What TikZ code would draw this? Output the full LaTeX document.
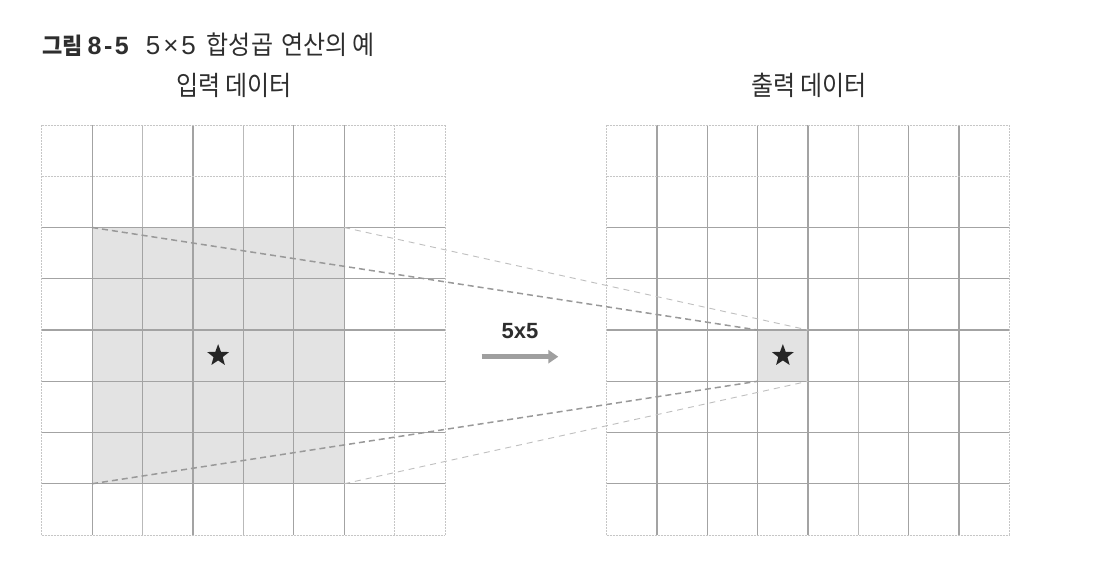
\documentclass[tikz,border=0pt]{standalone}
\usepackage{fontspec}
\usepackage{graphicx}
\setmainfont{Noto Sans CJK KR}
\newfontfamily\lat{Liberation Sans}
\usetikzlibrary{arrows.meta,shapes.geometric}
\definecolor{txt}{HTML}{2E2E2E}
\definecolor{shadefill}{HTML}{E3E3E3}
\begin{document}
\begin{tikzpicture}[x=1pt,y=-1pt,
  gfaint/.style={draw=gray!45,line width=0.8pt,dash pattern=on 2pt off 1pt},
  gmid/.style={draw=gray!55,line width=0.9pt},
  gdark/.style={draw=gray!72,line width=1.2pt},
  darkdash/.style={draw=gray!80,line width=1.5pt,dash pattern=on 6pt off 4pt},
  lightdash/.style={draw=gray!50,line width=0.9pt,dash pattern=on 6pt off 5pt},
  label/.style={font=\fontsize{24}{28}\selectfont,text=txt,inner sep=0pt},
  starmark/.style={star,star points=5,star point ratio=2.4,fill=black!85,minimum size=23pt,inner sep=0pt}]
\useasboundingbox (0,0) rectangle (1118,576);
\fill[white] (0,0) rectangle (1118,576);
\def\LX{41.7}\def\LW{50.41}\def\RX{606.7}\def\RW{50.33}\def\TY{125}\def\CH{51.25}
% shaded regions
\fill[shadefill] (\LX+\LW,\TY+2*\CH) rectangle (\LX+6*\LW,\TY+7*\CH);
\fill[shadefill] (\RX+3*\RW,\TY+4*\CH) rectangle (\RX+4*\RW,\TY+5*\CH);
% left grid
\foreach \i/\s in {0/gfaint,1/gdark,2/gmid,3/gdark,4/gmid,5/gdark,6/gdark,7/gfaint,8/gfaint}
  \draw[\s] ({\LX+\i*\LW},\TY) -- ++(0,8*\CH);
\foreach \j/\s in {0/gfaint,1/gfaint,2/gdark,3/gdark,4/gdark,5/gdark,6/gdark,7/gdark,8/gfaint}
  \draw[\s] (\LX,{\TY+\j*\CH}) -- ++(8*\LW,0);
% shaded region lines
\foreach \i in {1,...,6}
  \draw[gdark] ({\LX+\i*\LW},\TY+2*\CH) -- ++(0,5*\CH);
% right grid
\foreach \i/\s in {0/gfaint,1/gdark,2/gdark,3/gdark,4/gdark,5/gmid,6/gdark,7/gdark,8/gfaint}
  \draw[\s] ({\RX+\i*\RW},\TY) -- ++(0,8*\CH);
\foreach \j/\s in {0/gfaint,1/gfaint,2/gdark,3/gdark,4/gdark,5/gdark,6/gdark,7/gdark,8/gfaint}
  \draw[\s] (\RX,{\TY+\j*\CH}) -- ++(8*\RW,0);
% corners
\coordinate (inTL) at (\LX+\LW,\TY+2*\CH);
\coordinate (inTR) at (\LX+6*\LW,\TY+2*\CH);
\coordinate (inBL) at (\LX+\LW,\TY+7*\CH);
\coordinate (inBR) at (\LX+6*\LW,\TY+7*\CH);
\coordinate (outTL) at (\RX+3*\RW,\TY+4*\CH);
\coordinate (outTR) at (\RX+4*\RW,\TY+4*\CH);
\coordinate (outBL) at (\RX+3*\RW,\TY+5*\CH);
\coordinate (outBR) at (\RX+4*\RW,\TY+5*\CH);
% connectors
\draw[lightdash] (inTR) -- (outTR);
\draw[lightdash] (inBR) -- (outBR);
\draw[darkdash] (inTL) -- (outTL);
\draw[darkdash] (inBL) -- (outBL);
% stars
\node[starmark] (instar) at (\LX+3.5*\LW,\TY+4.5*\CH) {};
\node[starmark] (outstar) at (\RX+3.5*\RW,\TY+4.5*\CH) {};
% texts
\node[text=txt,inner sep=0pt,anchor=base west] (title) at (42,54) {%
  {\fontsize{22}{26}\selectfont\bfseries\scalebox{1}[1.05]{그림}}\hspace{5pt}%
  {\lat\fontsize{25}{28}\selectfont\bfseries 8\kern2.5pt-\kern2.5pt5}\hspace{17pt}%
  {\lat\fontsize{26}{28}\selectfont 5\kern3pt×\kern3pt5}\hspace{11pt}%
  {\fontsize{24}{28}\selectfont\scalebox{1}[1.08]{합성곱}\hspace{8pt}\scalebox{1}[1.08]{연산의}\hspace{5pt}\scalebox{1}[1.08]{예}}};
\node[label] (inlabel) at (234,85) {\scalebox{1}[1.12]{입력 데이터}};
\node[label] (outlabel) at (809,85) {\scalebox{1}[1.12]{출력 데이터}};
\node[label,font=\lat\fontsize{22}{24}\selectfont\bfseries] (klabel) at (520,331) {5x5};
% arrow
\coordinate (a1) at (481.7,356.7);
\coordinate (a2) at (558.3,356.7);
\draw[draw=gray!75,line width=4.5pt,-{Triangle[length=10pt,width=13pt,fill=gray!75]}] (a1) -- (a2);
\end{tikzpicture}
\end{document}
